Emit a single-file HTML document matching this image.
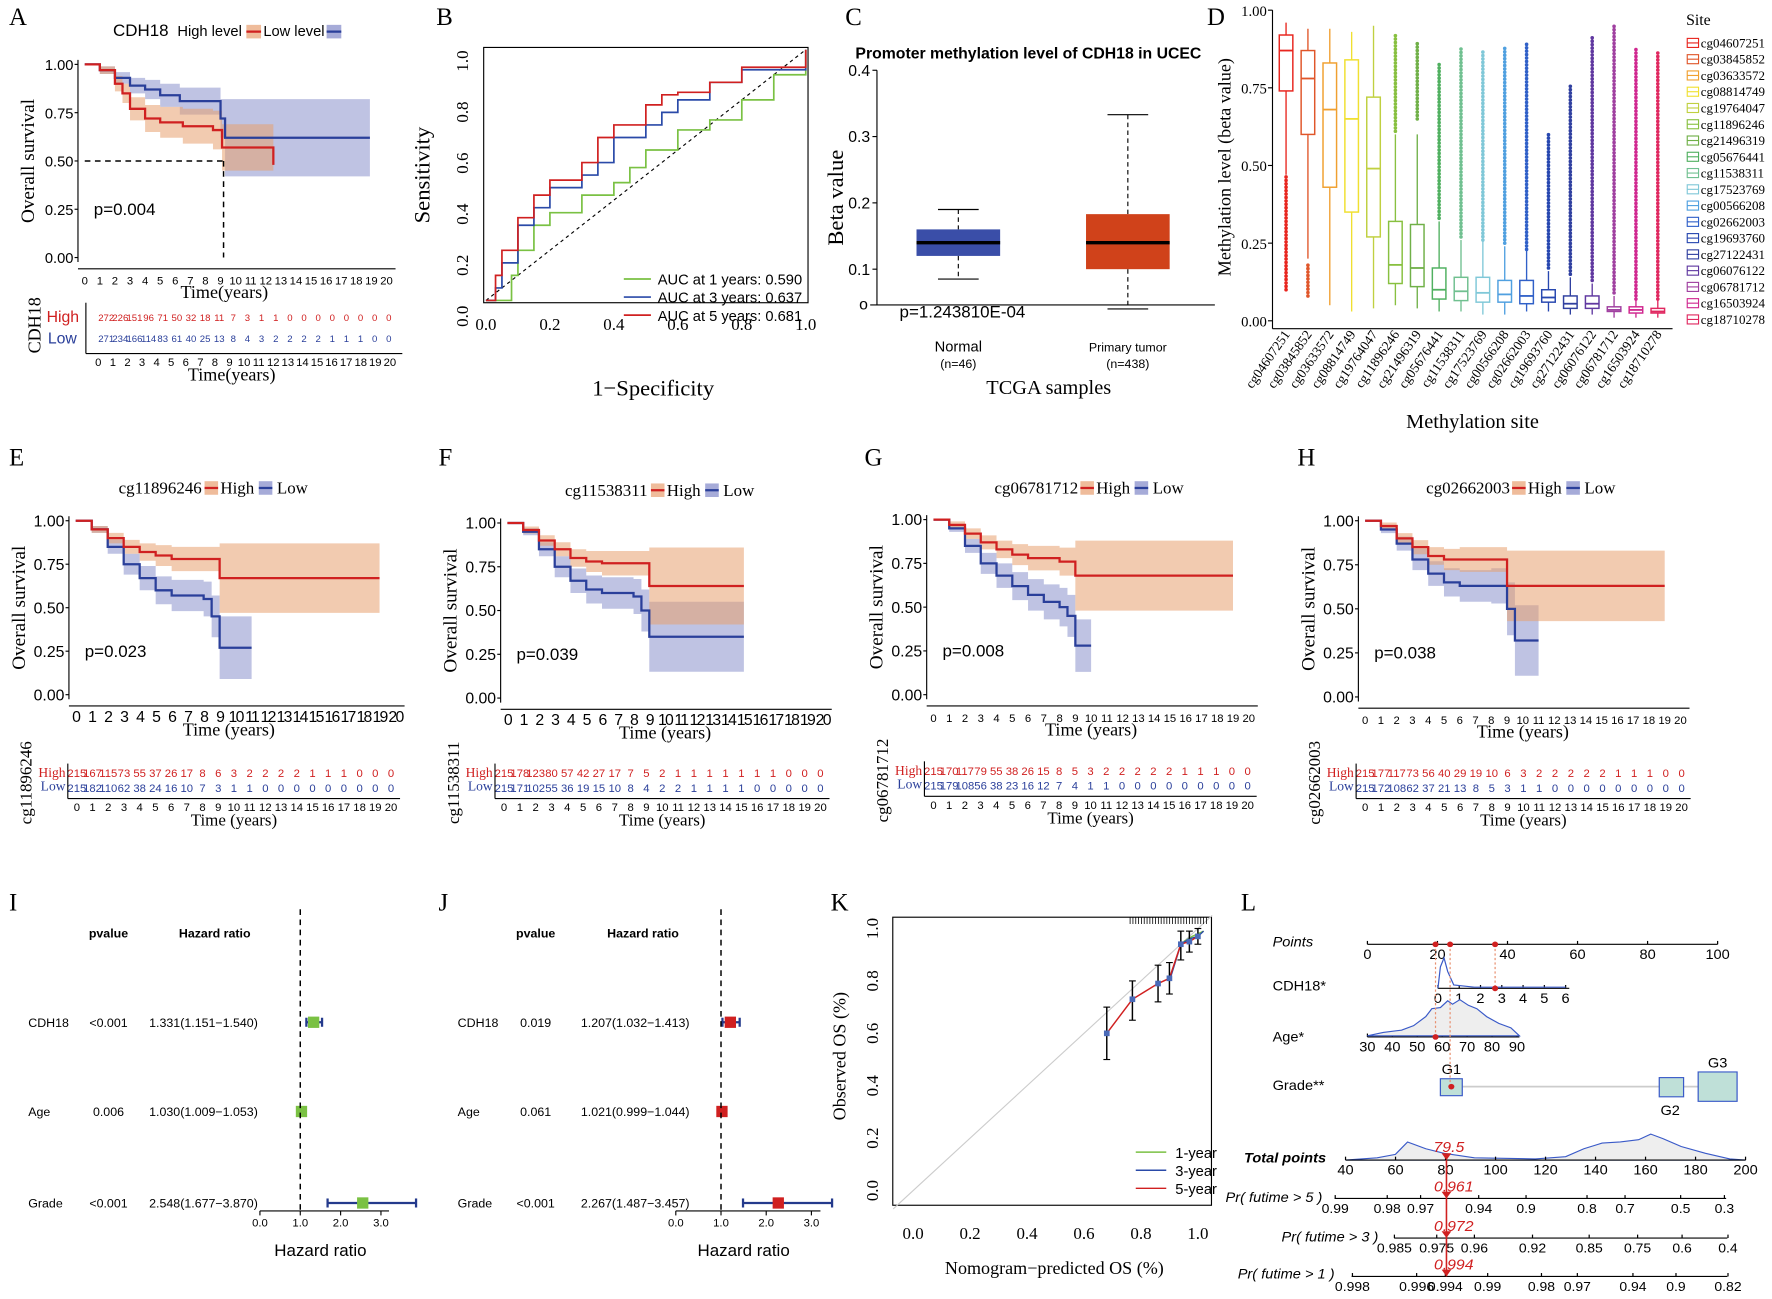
<!DOCTYPE html>
<html><head><meta charset="utf-8"><style>
html,body{margin:0;padding:0;background:#fff;}
svg{display:block;}
text{font-family:"Liberation Sans",sans-serif;}
.serif{font-family:"Liberation Serif",serif;}
</style></head><body>
<svg id="fig" xmlns="http://www.w3.org/2000/svg" width="1772" height="1299" viewBox="0 0 1568 1150" preserveAspectRatio="none"></svg>
<script>
// ---------- DATA ----------
const kmA_highT=[0,1,2,2.5,3,4,5,6.5,8.5,9.1,12.5];
const kmA_highS=[1,.97,.9,.85,.77,.72,.7,.68,.66,.57,.48];
const kmA_highW=[0,.02,.04,.05,.06,.07,.08,.09,.1,.12,.18];
const kmA_lowT=[0,1,2,3,4,5,6.3,9,9.3,18.9];
const kmA_lowS=[1,.97,.93,.89,.87,.84,.81,.72,.62,.62];
const kmA_lowW=[0,.02,.03,.04,.05,.06,.07,.1,.2,.2];
const riskA_high=[272,226,151,96,71,50,32,18,11,7,3,1,1,0,0,0,0,0,0,0,0];
const riskA_low=[271,234,166,114,83,61,40,25,13,8,4,3,2,2,2,2,1,1,1,0,0];

const rocFpr1=[0,.05,.08,.1,.15,.2,.3,.4,.45,.5,.6,.7,.8,.9,1];
const rocTpr1=[0,0,.1,.2,.3,.35,.42,.47,.53,.6,.68,.72,.8,.9,1];
const rocFpr3=[0,.03,.05,.1,.15,.2,.3,.35,.4,.5,.55,.6,.7,.8,1];
const rocTpr3=[0,.05,.15,.3,.37,.45,.5,.55,.65,.7,.75,.8,.87,.92,1];
const rocFpr5=[0,.03,.05,.1,.15,.2,.3,.35,.4,.5,.55,.6,.7,.8,1];
const rocTpr5=[0,.1,.2,.33,.42,.48,.55,.65,.7,.78,.82,.83,.87,.93,1];
const aucLabels=["AUC at 1 years: 0.590","AUC at 3 years: 0.637","AUC at 5 years: 0.681"];

const cGroups=["Normal","Primary tumor"];
const cN=["(n=46)","(n=438)"];
const cMed=[.14,.14], cQ1=[.12,.10], cQ3=[.16,.183], cWlo=[.085,.04], cWhi=[.19,.333];

const dSites=["cg04607251","cg03845852","cg03633572","cg08814749","cg19764047","cg11896246","cg21496319","cg05676441","cg11538311","cg17523769","cg00566208","cg02662003","cg19693760","cg27122431","cg06076122","cg06781712","cg16503924","cg18710278"];
const dColors=["#e8261f","#e0562a","#f0a030","#f0e030","#c0d040","#88c040","#70b048","#50b060","#70c090","#80c8d8","#50a0e0","#3060c8","#2848b0","#3040a0","#6038a0","#a040a0","#d02890","#e02860"];
const dMed=[.87,.78,.68,.65,.49,.18,.17,.1,.095,.09,.085,.08,.075,.055,.055,.035,.035,.03];
const dQ1=[.74,.6,.43,.35,.27,.12,.11,.07,.065,.06,.06,.055,.06,.04,.04,.03,.025,.025];
const dQ3=[.92,.87,.83,.84,.72,.32,.31,.17,.14,.14,.13,.13,.10,.08,.08,.045,.045,.04];
const dWlo=[.47,.2,.05,.03,.04,.05,.04,.03,.03,.02,.02,.03,.03,.02,.02,.01,.01,.01];
const dWhi=[.96,.94,.94,.93,.95,.6,.6,.32,.26,.26,.24,.23,.16,.14,.12,.08,.07,.07];
const dOutMin=[.1,.08,0,0,0,.61,.65,.33,.27,.26,.25,.23,.17,.15,.13,.09,.07,.07];
const dOutMax=[.47,.19,0,0,0,.92,.9,.83,.88,.87,.88,.9,.6,.76,.92,.95,.88,.87];

const kmE={hT:[0,1,2,3,4,5,6,9,19],hS:[1,.95,.9,.85,.82,.8,.78,.67,.67],hW:[0,.02,.03,.04,.05,.06,.07,.2,.2],
 lT:[0,1,2,3,4,5,6,8,8.5,9,11],lS:[1,.95,.85,.75,.67,.6,.57,.55,.45,.27,.27],lW:[0,.02,.04,.06,.07,.08,.09,.1,.12,.18,.18]};
const kmF={hT:[0,1,2,3,4,5,6,9,15],hS:[1,.96,.9,.85,.8,.78,.77,.64,.64],hW:[0,.02,.03,.04,.05,.06,.07,.22,.22],
 lT:[0,1,2,3,4,5,6,8,8.5,9,15],lS:[1,.95,.85,.75,.67,.62,.6,.58,.5,.35,.35],lW:[0,.02,.04,.06,.07,.08,.09,.1,.12,.2,.2]};
const kmG={hT:[0,1,2,3,4,5,6,8,9,19],hS:[1,.97,.92,.87,.83,.8,.78,.76,.68,.68],hW:[0,.02,.03,.04,.05,.06,.07,.08,.2,.2],
 lT:[0,1,2,3,4,5,6,7,8,8.5,9,10],lS:[1,.95,.85,.75,.68,.62,.57,.53,.5,.45,.28,.28],lW:[0,.02,.04,.06,.07,.08,.09,.1,.11,.12,.15,.15]};
const kmH={hT:[0,1,2,3,4,5,6,9,19],hS:[1,.97,.9,.85,.8,.78,.78,.63,.63],hW:[0,.02,.03,.04,.05,.06,.07,.2,.2],
 lT:[0,1,2,3,4,5,6,8,9,9.5,11],lS:[1,.95,.87,.78,.7,.65,.63,.63,.5,.32,.32],lW:[0,.02,.04,.06,.07,.08,.09,.1,.15,.2,.2]};
const riskE_high=[215,167,115,73,55,37,26,17,8,6,3,2,2,2,2,1,1,1,0,0,0];
const riskE_low=[215,182,110,62,38,24,16,10,7,3,1,1,0,0,0,0,0,0,0,0,0];
const riskF_high=[215,178,123,80,57,42,27,17,7,5,2,1,1,1,1,1,1,1,0,0,0];
const riskF_low=[215,171,102,55,36,19,15,10,8,4,2,2,1,1,1,1,0,0,0,0,0];
const riskG_high=[215,170,117,79,55,38,26,15,8,5,3,2,2,2,2,2,1,1,1,0,0];
const riskG_low=[215,179,108,56,38,23,16,12,7,4,1,1,0,0,0,0,0,0,0,0,0];
const riskH_high=[215,177,117,73,56,40,29,19,10,6,3,2,2,2,2,2,1,1,1,0,0];
const riskH_low=[215,172,108,62,37,21,13,8,5,3,1,1,0,0,0,0,0,0,0,0,0];

const forestVars=["CDH18","Age","Grade"];
const forestIp=["<0.001","0.006","<0.001"], forestIhr=[1.331,1.030,2.548], forestIlo=[1.151,1.009,1.677], forestIhi=[1.540,1.053,3.870];
const forestIlab=["1.331(1.151\u22121.540)","1.030(1.009\u22121.053)","2.548(1.677\u22123.870)"];
const forestJp=["0.019","0.061","<0.001"], forestJhr=[1.207,1.021,2.267], forestJlo=[1.032,.999,1.487], forestJhi=[1.413,1.044,3.457];
const forestJlab=["1.207(1.032\u22121.413)","1.021(0.999\u22121.044)","2.267(1.487\u22123.457)"];
const forestTicks=[0,1,2,3];

const calPred=[.68,.77,.86,.9,.94,.97,1.0];
const calObs=[.6,.73,.79,.81,.94,.95,.97];
const calLo=[.5,.65,.72,.75,.88,.91,.94];
const calHi=[.7,.8,.86,.87,.99,.99,1.0];
const cal1Pred=[.95,.98,1.0,1.02], cal1Obs=[.95,.97,.98,.99];
const cal3Pred=[.9,.94,.97,1.0,1.02], cal3Obs=[.8,.94,.96,.97,.99];
const calTicks=[0,.2,.4,.6,.8,1.0];

// ---------- HELPERS ----------
const svg=document.getElementById('fig');
const NS='http://www.w3.org/2000/svg';
function mk(tag,attrs,parent,name){
  const el=document.createElementNS(NS,tag);
  for(const k in attrs) el.setAttribute(k,attrs[k]);
  
  
  (parent||svg).appendChild(el);
  return el;
}
function txt(x,y,s,opt,name,parent){
  const o=Object.assign({x:x,y:y,'font-size':12,fill:'#000'},opt||{});
  const t=mk('text',o,parent,name);
  t.textContent=s;return t;
}
function grp(name){return mk('g',{},svg,name);}
function line(x1,y1,x2,y2,st,g,name){return mk('line',Object.assign({x1:x1,y1:y1,x2:x2,y2:y2,stroke:'#000','stroke-width':1},st||{}),g,name);}

function stepPath(T,S,sx,sy){
  let d='M'+sx(T[0])+','+sy(S[0]);
  for(let i=1;i<T.length;i++){d+=' H'+sx(T[i])+' V'+sy(S[i]);}
  return d;
}
function bandPath(T,S,W,sx,sy){
  let up='',lo=[];
  for(let i=0;i<T.length;i++){
    const t2=i<T.length-1?T[i+1]:T[i];
    const a=Math.min(1,S[i]+W[i]),b=Math.max(0,S[i]-W[i]);
    up+=(i?' L':'M')+sx(T[i])+','+sy(a)+' L'+sx(t2)+','+sy(a);
    lo.unshift(sx(t2)+','+sy(b)+' L'+sx(T[i])+','+sy(b));
  }
  return up+' L'+lo.join(' L')+' Z';
}
function kmPanel(g,cfg){
  const sx=t=>cfg.x0+t*(cfg.x1-cfg.x0)/20, sy=s=>cfg.yB+(cfg.yT-cfg.yB)*s;
  mk('path',{d:bandPath(cfg.lT,cfg.lS,cfg.lW,sx,sy),fill:'#8088c8','fill-opacity':.5},g,'low-ci-band');
  mk('path',{d:bandPath(cfg.hT,cfg.hS,cfg.hW,sx,sy),fill:'#e8a070','fill-opacity':.55},g,'high-ci-band');
  mk('path',{d:stepPath(cfg.lT,cfg.lS,sx,sy),fill:'none',stroke:'#2a3f9a','stroke-width':2},g,'low-survival-curve');
  mk('path',{d:stepPath(cfg.hT,cfg.hS,sx,sy),fill:'none',stroke:'#d02020','stroke-width':2},g,'high-survival-curve');
  line(cfg.x0-6,cfg.yT-4,cfg.x0-6,cfg.yB+4,{},g,'y-axis');
  line(cfg.x0-6,cfg.yB+10,cfg.x1+8,cfg.yB+10,{},g,'x-axis');
  [0,.25,.5,.75,1].forEach(v=>{
    txt(cfg.x0-10,sy(v)+5,v.toFixed(2),{'text-anchor':'end','font-size':cfg.fs||14},'y-tick-label',g);
    line(cfg.x0-9,sy(v),cfg.x0-6,sy(v),{},g,'y-tick');
  });
  for(let t=0;t<=20;t++) txt(sx(t),cfg.yB+24,String(t),{'text-anchor':'middle','font-size':cfg.xfs||11,'letter-spacing':cfg.ls||0},'x-tick-label',g);
  txt((cfg.x0+cfg.x1)/2+cfg.tOff,cfg.yB+36,cfg.xTitle,{'text-anchor':'middle','font-size':16,class:'serif'},'x-axis-title',g);
  txt(cfg.x0-45,(cfg.yT+cfg.yB)/2,'Overall survival',{'text-anchor':'middle','font-size':17,class:'serif',transform:`rotate(-90 ${cfg.x0-45} ${(cfg.yT+cfg.yB)/2})`},'y-axis-title',g);
  txt(cfg.x0+8,sy(.25)+5,cfg.p,{'font-size':15},'p-value',g);
}
function riskTable(g,cfg,hi,lo){
  const sx=t=>cfg.rx0+t*(cfg.rx1-cfg.rx0)/20;
  hi.forEach((v,i)=>txt(sx(i),cfg.ry,String(v),{'text-anchor':'middle','font-size':cfg.rfs||10,fill:'#d02020'},'risk-high-count',g));
  lo.forEach((v,i)=>txt(sx(i),cfg.ry+13,String(v),{'text-anchor':'middle','font-size':cfg.rfs||10,fill:'#2a3f9a'},'risk-low-count',g));
  line(cfg.rx0-8,cfg.ry-12,cfg.rx0-8,cfg.ry+19,{},g,'risk-y-axis');
  line(cfg.rx0-8,cfg.ry+19,cfg.rx1+8,cfg.ry+19,{},g,'risk-x-axis');
  for(let t=0;t<=20;t++) txt(sx(t),cfg.ry+30,String(t),{'text-anchor':'middle','font-size':10},'risk-x-tick',g);
  txt((cfg.rx0+cfg.rx1)/2,cfg.ry+43,'Time (years)',{'text-anchor':'middle','font-size':15,class:'serif'},'risk-x-title',g);
  txt(cfg.rx0-10,cfg.ry,'High',{'text-anchor':'end','font-size':12,fill:'#d02020',class:'serif'},'risk-high-label',g);
  txt(cfg.rx0-10,cfg.ry+12,'Low',{'text-anchor':'end','font-size':12,fill:'#2a3f9a',class:'serif'},'risk-low-label',g);
  const cx=cfg.rx0-40, cy=cfg.ry+5;
  txt(cx,cy,cfg.name,{'text-anchor':'middle','font-size':15,class:'serif',transform:`rotate(-90 ${cx} ${cy})`},'risk-table-title',g);
}
function legendTitle(g,x,y,name){
  txt(x,y,name,{'font-size':15,class:'serif'},'chart-title',g);
  const w=name.length*7.4;
  mk('rect',{x:x+w+2,y:y-11,width:12,height:12,fill:'#e8a070','fill-opacity':.7},g,'legend-high-swatch');
  line(x+w+2,y-5,x+w+14,y-5,{stroke:'#d02020','stroke-width':2},g,'legend-high-line');
  txt(x+w+16,y,'High',{'font-size':15,class:'serif'},'legend-high-label',g);
  mk('rect',{x:x+w+50,y:y-11,width:12,height:12,fill:'#8088c8','fill-opacity':.7},g,'legend-low-swatch');
  line(x+w+50,y-5,x+w+62,y-5,{stroke:'#2a3f9a','stroke-width':2},g,'legend-low-line');
  txt(x+w+66,y,'Low',{'font-size':15,class:'serif'},'legend-low-label',g);
}
function panelLabel(l,x,y){txt(x,y,l,{'font-size':22,class:'serif'},'panel-label-'+l.toLowerCase());}

// ---------- PANEL A ----------
(function(){
  const g=grp('panel-a');
  panelLabel('A',8,22);
  txt(100,32,'CDH18',{'font-size':15},'chart-title',g);
  txt(157,32,'High level',{'font-size':13},'legend-high-label',g);
  mk('rect',{x:218,y:22,width:13,height:12,fill:'#e8a070','fill-opacity':.7},g,'legend-high-swatch');
  line(218,28,231,28,{stroke:'#d02020','stroke-width':2},g,'legend-high-line');
  txt(233,32,'Low level',{'font-size':13},'legend-low-label',g);
  mk('rect',{x:289,y:22,width:13,height:12,fill:'#8088c8','fill-opacity':.7},g,'legend-low-swatch');
  line(289,28,302,28,{stroke:'#2a3f9a','stroke-width':2},g,'legend-low-line');
  const cfg={x0:75,x1:342,yT:57,yB:228,hT:kmA_highT,hS:kmA_highS,hW:kmA_highW,lT:kmA_lowT,lS:kmA_lowS,lW:kmA_lowW,p:'p=0.004',xTitle:'Time(years)',tOff:-10,fs:13,xfs:10};
  kmPanel(g,cfg);
  const sx=t=>75+t*267/20, sy=s=>228-171*s;
  line(sx(0),sy(.5),sx(9.2),sy(.5),{'stroke-dasharray':'5,4','stroke-width':1.3},g,'median-line');
  line(sx(9.2),sy(.5),sx(9.2),sy(0),{'stroke-dasharray':'5,4','stroke-width':1.3},g,'median-drop-line');
  const sxr=t=>94+t*(344-94)/20;
  riskA_high.forEach((v,i)=>txt(sxr(i),284,String(v),{'text-anchor':'middle','font-size':8.5,fill:'#d02020'},'risk-high-count',g));
  riskA_low.forEach((v,i)=>txt(sxr(i),303,String(v),{'text-anchor':'middle','font-size':8.5,fill:'#2a3f9a'},'risk-low-count',g));
  txt(70,285,'High',{'text-anchor':'end','font-size':14,fill:'#d02020'},'risk-high-label',g);
  txt(68,304,'Low',{'text-anchor':'end','font-size':14,fill:'#2a3f9a'},'risk-low-label',g);
  line(76,268,76,313,{},g,'risk-y-axis');
  line(76,313,356,313,{},g,'risk-x-axis');
  for(let t=0;t<=20;t++) txt(87+t*12.9,324,String(t),{'text-anchor':'middle','font-size':10},'risk-x-tick',g);
  txt(205,337,'Time(years)',{'text-anchor':'middle','font-size':16,class:'serif'},'risk-x-title',g);
  txt(36,288,'CDH18',{'text-anchor':'middle','font-size':16,class:'serif',transform:'rotate(-90 36 288)'},'risk-table-title',g);
})();

// ---------- PANEL B ----------
(function(){
  const g=grp('panel-b');
  panelLabel('B',386,22);
  const sx=v=>430+v*283, sy=v=>266-v*222;
  mk('rect',{x:428,y:42,width:287,height:226,fill:'none',stroke:'#000'},g,'plot-frame');
  line(sx(0),sy(0),sx(1),sy(1),{'stroke-dasharray':'3,3'},g,'reference-diagonal');
  function roc(F,T,col,name){
    let d='M'+sx(F[0])+','+sy(T[0]);
    for(let i=1;i<F.length;i++) d+=' L'+sx(F[i])+','+sy(T[i-1])+' L'+sx(F[i])+','+sy(T[i]);
    mk('path',{d:d,fill:'none',stroke:col,'stroke-width':1.5},g,name);
  }
  roc(rocFpr1,rocTpr1,'#7ac143','roc-1-year');
  roc(rocFpr3,rocTpr3,'#2a4aa8','roc-3-year');
  roc(rocFpr5,rocTpr5,'#d02020','roc-5-year');
  [0,.2,.4,.6,.8,1].forEach(v=>{
    txt(sx(v),292,v.toFixed(1),{'text-anchor':'middle','font-size':15,class:'serif'},'x-tick-label',g);
    const y=266-v*226+14;
    txt(414,y,v.toFixed(1),{'text-anchor':'middle','font-size':15,class:'serif',transform:`rotate(-90 414 ${y})`},'y-tick-label',g);
  });
  txt(578,350,'1\u2212Specificity',{'text-anchor':'middle','font-size':20,class:'serif'},'x-axis-title',g);
  txt(380,155,'Sensitivity',{'text-anchor':'middle','font-size':20,class:'serif',transform:'rotate(-90 380 155)'},'y-axis-title',g);
  const cols=['#7ac143','#2a4aa8','#d02020'];
  aucLabels.forEach((s,i)=>{
    line(552,247+i*16,576,247+i*16,{stroke:cols[i],'stroke-width':1.5},g,'legend-line');
    txt(582,252+i*16,s,{'font-size':13},'legend-label',g);
  });
})();

// ---------- PANEL C ----------
(function(){
  const g=grp('panel-c');
  panelLabel('C',748,22);
  txt(910,52,'Promoter methylation level of CDH18 in UCEC',{'text-anchor':'middle','font-size':14,'font-weight':'bold'},'chart-title',g);
  const sy=v=>297-v*587;
  line(776,sy(.4),776,270,{},g,'y-axis');
  [.1,.2,.3,.4].forEach(v=>{
    line(772,sy(v),776,sy(v),{},g,'y-tick');
    txt(770,sy(v)+5,v.toFixed(1),{'text-anchor':'end','font-size':14},'y-tick-label',g);
  });
  txt(768,274,'o',{'text-anchor':'end','font-size':14},'y-tick-label-zero',g);
  txt(746,175,'Beta value',{'text-anchor':'middle','font-size':20,class:'serif',transform:'rotate(-90 746 175)'},'y-axis-title',g);
  line(770,270,1075,270,{stroke:'#000'},g,'x-axis');
  const cx=[848,998], fills=['#3a4ea8','#d0421a'];
  cGroups.forEach((nm,i)=>{
    line(cx[i],sy(cWhi[i]),cx[i],sy(cQ3[i]),{'stroke-dasharray':'4,3'},g,'whisker-upper');
    line(cx[i],sy(cQ1[i]),cx[i],sy(cWlo[i]),{'stroke-dasharray':'4,3'},g,'whisker-lower');
    line(cx[i]-18,sy(cWhi[i]),cx[i]+18,sy(cWhi[i]),{},g,'whisker-cap');
    line(cx[i]-18,sy(cWlo[i]),cx[i]+18,sy(cWlo[i]),{},g,'whisker-cap');
    mk('rect',{x:cx[i]-37,y:sy(cQ3[i]),width:74,height:sy(cQ1[i])-sy(cQ3[i]),fill:fills[i]},g,'box-'+i);
    line(cx[i]-37,sy(cMed[i]),cx[i]+37,sy(cMed[i]),{'stroke-width':3},g,'median-line');
    txt(cx[i],311,nm,{'text-anchor':'middle','font-size':i?11:13},'x-category-label',g);
    txt(cx[i],326,cN[i],{'text-anchor':'middle','font-size':11},'x-category-n',g);
  });
  txt(796,281,'p=1.243810E-04',{'font-size':15},'p-value',g);
  txt(928,349,'TCGA samples',{'text-anchor':'middle','font-size':18,class:'serif'},'x-axis-title',g);
})();

// ---------- PANEL D ----------
(function(){
  const g=grp('panel-d');
  panelLabel('D',1068,22);
  const sy=v=>284-v*275, x0=1138, dx=19.35;
  line(1126,sy(1),1126,sy(0)+7,{},g,'y-axis');
  line(1126,sy(0)+7,1480,sy(0)+7,{},g,'x-axis');
  [0,.25,.5,.75,1].forEach(v=>{
    line(1122,sy(v),1126,sy(v),{},g,'y-tick');
    txt(1121,sy(v)+5,v.toFixed(2),{'text-anchor':'end','font-size':13,class:'serif'},'y-tick-label',g);
  });
  txt(1089,148,'Methylation level (beta value)',{'text-anchor':'middle','font-size':16,class:'serif',transform:'rotate(-90 1089 148)'},'y-axis-title',g);
  dSites.forEach((s,i)=>{
    const cx=x0+i*dx,c=dColors[i];
    line(cx,sy(dWhi[i]),cx,sy(dWlo[i]),{stroke:c,'stroke-width':1.2},g,'whisker');
    mk('rect',{x:cx-6,y:sy(dQ3[i]),width:12,height:sy(dQ1[i])-sy(dQ3[i]),fill:'#fff',stroke:c,'stroke-width':1.3},g,'box-'+s);
    line(cx-6,sy(dMed[i]),cx+6,sy(dMed[i]),{stroke:c,'stroke-width':1.6},g,'median');
    if(dOutMax[i]>0){
      for(let v=dOutMin[i];v<=dOutMax[i];v+=.011) mk('circle',{cx:cx,cy:sy(v),r:1.6,fill:c},g,'outlier');
    }
    const ty=296, tx=cx+4;
    txt(tx,ty,s,{'text-anchor':'end','font-size':12,class:'serif',transform:`rotate(-55 ${tx} ${ty})`},'x-tick-label',g);
    mk('rect',{x:1493,y:34+i*14.4,width:10,height:8,fill:'none',stroke:c},g,'legend-box');
    line(1493,38+i*14.4,1503,38+i*14.4,{stroke:c},g,'legend-swatch');
    txt(1505,42+i*14.4,s,{'font-size':11.5,class:'serif'},'legend-label',g);
  });
  txt(1492,22,'Site',{'font-size':14,class:'serif'},'legend-title',g);
  txt(1303,379,'Methylation site',{'text-anchor':'middle','font-size':18,class:'serif'},'x-axis-title',g);
})();

// ---------- PANELS E-H ----------
[
 {L:'E',lx:8,name:'cg11896246',d:kmE,hi:riskE_high,lo:riskE_low,x0:67,x1:350,yT:461,yB:615,p:'p=0.023',tx:105,tOff:-6,xfs:14,ls:-1.5,rx0:68,rx1:346,ry:688,ty:437},
 {L:'F',lx:388,name:'cg11538311',d:kmF,hi:riskF_high,lo:riskF_low,x0:449,x1:728,yT:463,yB:618,p:'p=0.039',tx:500,tOff:0,xfs:14,ls:-1.5,rx0:446,rx1:726,ry:688,ty:439},
 {L:'G',lx:765,name:'cg06781712',d:kmG,hi:riskG_high,lo:riskG_low,x0:826,x1:1105,yT:460,yB:615,p:'p=0.008',tx:880,tOff:0,xfs:10,ls:0,rx0:826,rx1:1104,ry:686,ty:437},
 {L:'H',lx:1148,name:'cg02662003',d:kmH,hi:riskH_high,lo:riskH_low,x0:1208,x1:1487,yT:461,yB:617,p:'p=0.038',tx:1262,tOff:0,xfs:10,ls:0,rx0:1208,rx1:1488,ry:688,ty:437}
].forEach(P=>{
  const g=grp('panel-'+P.L.toLowerCase());
  panelLabel(P.L,P.lx,412);
  legendTitle(g,P.tx,P.ty,P.name);
  kmPanel(g,{x0:P.x0,x1:P.x1,yT:P.yT,yB:P.yB,hT:P.d.hT,hS:P.d.hS,hW:P.d.hW,lT:P.d.lT,lS:P.d.lS,lW:P.d.lW,p:P.p,xTitle:'Time (years)',tOff:P.tOff,xfs:P.xfs,ls:P.ls,fs:14});
  riskTable(g,P,P.hi,P.lo);
});

// ---------- PANELS I, J ----------
function forest(P){
  const g=grp('panel-'+P.L.toLowerCase());
  panelLabel(P.L,P.lx,806);
  const sx=v=>P.a0+v*P.u;
  txt(P.px,830,'pvalue',{'text-anchor':'middle','font-size':11,'font-weight':'bold'},'header-pvalue',g);
  txt(P.hx,830,'Hazard ratio',{'text-anchor':'middle','font-size':11,'font-weight':'bold'},'header-hazard-ratio',g);
  const ys=[909,988,1069];
  forestVars.forEach((v,i)=>{
    txt(P.lx+17,ys[i],v,{'font-size':11},'row-label',g);
    txt(P.px,ys[i],P.p[i],{'text-anchor':'middle','font-size':11},'row-pvalue',g);
    txt(P.hrx,ys[i],P.lab[i],{'font-size':11},'row-hr-text',g);
    const y=ys[i]-4;
    line(sx(P.lo[i]),y,sx(P.hi[i]),y,{stroke:'#243a8c','stroke-width':2},g,'ci-line');
    line(sx(P.lo[i]),y-4,sx(P.lo[i]),y+4,{stroke:'#243a8c','stroke-width':2},g,'ci-cap');
    line(sx(P.hi[i]),y-4,sx(P.hi[i]),y+4,{stroke:'#243a8c','stroke-width':2},g,'ci-cap');
    mk('rect',{x:sx(P.hr[i])-5,y:y-5,width:10,height:10,fill:P.col},g,'hr-marker');
  });
  line(sx(1),805,sx(1),1072,{'stroke-dasharray':'5,4','stroke-width':1.3},g,'reference-line');
  line(sx(0),1072,sx(3.2),1072,{},g,'x-axis');
  forestTicks.forEach(v=>{
    line(sx(v),1072,sx(v),1076,{},g,'x-tick');
    txt(sx(v),1086,v.toFixed(1),{'text-anchor':'middle','font-size':10},'x-tick-label',g);
  });
  txt(sx(1.5),1112,'Hazard ratio',{'text-anchor':'middle','font-size':15},'x-axis-title',g);
}
forest({L:'I',lx:8,px:96,hx:190,hrx:132,a0:230,u:35.7,p:forestIp,hr:forestIhr,lo:forestIlo,hi:forestIhi,lab:forestIlab,col:'#7ac143'});
forest({L:'J',lx:388,px:474,hx:569,hrx:514,a0:598,u:40,p:forestJp,hr:forestJhr,lo:forestJlo,hi:forestJhi,lab:forestJlab,col:'#d02020'});

// ---------- PANEL K ----------
(function(){
  const g=grp('panel-k');
  panelLabel('K',735,806);
  const sx=v=>808+v*252, sy=v=>1054-v*232;
  mk('rect',{x:790,y:812,width:282,height:255,fill:'none',stroke:'#000'},g,'plot-frame');
  line(sx(-.07),sy(-.07),sx(1.05),sy(1.05),{stroke:'#ccc'},g,'ideal-line');
  for(let x=1000;x<1070;x+=2.5) line(x,812,x,818,{'stroke-width':.7},g,'rug-tick');
  calTicks.forEach(v=>{
    txt(sx(v),1097,v.toFixed(1),{'text-anchor':'middle','font-size':15,class:'serif'},'x-tick-label',g);
    txt(777,sy(v),v.toFixed(1),{'text-anchor':'middle','font-size':15,class:'serif',transform:`rotate(-90 777 ${sy(v)})`},'y-tick-label',g);
  });
  txt(933,1128,'Nomogram\u2212predicted OS (%)',{'text-anchor':'middle','font-size':16,class:'serif'},'x-axis-title',g);
  txt(748,935,'Observed OS (%)',{'text-anchor':'middle','font-size':16,class:'serif',transform:'rotate(-90 748 935)'},'y-axis-title',g);
  const pl=(P,O,c,n)=>mk('polyline',{points:P.map((p,i)=>sx(p)+','+sy(O[i])).join(' '),fill:'none',stroke:c,'stroke-width':1.3},g,n);
  pl(cal1Pred,cal1Obs,'#7ac143','calibration-1-year');
  pl(cal3Pred,cal3Obs,'#2a4aa8','calibration-3-year');
  pl(calPred,calObs,'#d02020','calibration-5-year');
  calPred.forEach((p,i)=>{
    line(sx(p),sy(calLo[i]),sx(p),sy(calHi[i]),{'stroke-width':1.3},g,'error-bar');
    line(sx(p)-3,sy(calLo[i]),sx(p)+3,sy(calLo[i]),{},g,'error-cap');
    line(sx(p)-3,sy(calHi[i]),sx(p)+3,sy(calHi[i]),{},g,'error-cap');
    mk('rect',{x:sx(p)-2.5,y:sy(calObs[i])-2.5,width:5,height:5,fill:'#4a6ab8'},g,'calibration-point');
  });
  const cols=['#7ac143','#2a4aa8','#d02020'],labs=['1-year','3-year','5-year'];
  labs.forEach((s,i)=>{
    line(1005,1020+i*16,1032,1020+i*16,{stroke:cols[i],'stroke-width':1.3},g,'legend-line');
    txt(1040,1025+i*16,s,{'font-size':13},'legend-label',g);
  });
})();

// ---------- PANEL L ----------
(function(){
  panelLabel('L',1098,806);
  const g=mk('g',{transform:'translate(1210,0) scale(1.076,1) translate(-1202,0)'},svg,'panel-l');
  function axis(x0,x1,y,labels,xs,name,fs){
    line(x0,y,x1,y,{},g,name+'-axis');
    labels.forEach((s,i)=>{
      line(xs[i],y,xs[i],y-3,{},g,name+'-tick');
      txt(xs[i],y+13,s,{'text-anchor':'middle','font-size':fs||12},name+'-tick-label',g);
    });
  }
  const rl=(s,x,y,o,n)=>txt(x,y,s,Object.assign({'font-size':12},o),n,g);
  rl('Points',1124,838,{'font-style':'italic'},'row-label-points');
  rl('CDH18*',1124,877,{},'row-label-cdh18');
  rl('Age*',1124,922,{},'row-label-age');
  rl('Grade**',1124,965,{},'row-label-grade');
  rl('Total points',1168,1029,{'font-weight':'bold','font-style':'italic','text-anchor':'end'},'row-label-total');
  rl('Pr( futime > 5 )',1165,1064,{'font-style':'italic','text-anchor':'end'},'row-label-pr5');
  rl('Pr( futime > 3 )',1211,1099,{'font-style':'italic','text-anchor':'end'},'row-label-pr3');
  rl('Pr( futime > 1 )',1175,1132,{'font-style':'italic','text-anchor':'end'},'row-label-pr1');
  const pts=[0,20,40,60,80,100];
  axis(1202,1490,836,pts.map(String),pts.map(v=>1202+v*2.88),'points');
  const cd=[0,1,2,3,4,5,6];
  axis(1260,1368,875,cd.map(String),cd.map(v=>1260+v*17.5),'cdh18');
  const ag=[30,40,50,60,70,80,90];
  axis(1202,1327,918,ag.map(String),ag.map(v=>1202+(v-30)*2.05),'age');
  mk('path',{d:'M1260,875 L1262,856 L1265,848 L1268,860 L1273,872 L1290,874 L1365,874',fill:'none',stroke:'#3a5ac8'},g,'cdh18-density');
  mk('path',{d:'M1202,917 L1215,914 L1230,912 L1240,908 L1250,900 L1255,893 L1262,892 L1268,886 L1272,889 L1278,885 L1285,890 L1292,893 L1300,900 L1310,906 L1320,910 L1327,917 Z',fill:'#eee',stroke:'#3a5ac8'},g,'age-density');
  line(1264,962,1500,962,{stroke:'#ccc','stroke-width':1.5},g,'grade-line');
  mk('rect',{x:1262,y:955,width:18,height:15,fill:'#bfe0d8',stroke:'#3a5ac8'},g,'grade-g1-box');
  mk('rect',{x:1442,y:954,width:20,height:17,fill:'#bfe0d8',stroke:'#3a5ac8'},g,'grade-g2-box');
  mk('rect',{x:1474,y:949,width:32,height:26,fill:'#bfe0d8',stroke:'#3a5ac8'},g,'grade-g3-box');
  rl('G1',1271,951,{'text-anchor':'middle'},'grade-g1-label');
  rl('G2',1451,987,{'text-anchor':'middle'},'grade-g2-label');
  rl('G3',1490,945,{'text-anchor':'middle'},'grade-g3-label');
  mk('path',{d:'M1184,1027 L1210,1025 L1225,1022 L1235,1011 L1250,1017 L1265,1021 L1290,1025 L1340,1026 L1365,1024 L1380,1017 L1395,1012 L1410,1011 L1425,1009 L1435,1004 L1445,1008 L1460,1015 L1480,1021 L1500,1026 L1513,1027 Z',fill:'#eee',stroke:'#3a5ac8'},g,'total-density');
  const tp=[40,60,80,100,120,140,160,180,200];
  axis(1184,1513,1027,tp.map(String),tp.map(v=>1184+(v-40)*2.056),'total');
  const p5=['0.99','0.98','0.97','0.94','0.9','0.8','0.7','0.5','0.3'],p5x=[355,500,593,755,887,1057,1163,1318,1440];
  axis(1175,1497,1061,p5,p5x.map(z=>(1210+z/3)/1.13),'pr5',11.5);
  const p3=['0.985','0.975','0.96','0.92','0.85','0.75','0.6','0.4'],p3x=[520,638,743,905,1063,1198,1322,1450];
  axis(1224,1498,1096,p3,p3x.map(z=>(1210+z/3)/1.13),'pr3',11.5);
  const p1=['0.998','0.996','0.994','0.99','0.98','0.97','0.94','0.9','0.82'],p1x=[403,582,662,780,930,1030,1185,1305,1450];
  axis(1189,1498,1130,p1,p1x.map(z=>(1210+z/3)/1.13),'pr1',11.5);
  [1258,1270,1307].forEach(x=>line(x,836,x,x===1270?962:(x===1307?875:918),{stroke:'#e89070','stroke-dasharray':'2,2'},g,'projection-line'));
  [[1258,836],[1270,836],[1307,836],[1307,875],[1258,918],[1271,962]].forEach(p=>mk('circle',{cx:p[0],cy:p[1],r:2.5,fill:'#d02020'},g,'selected-point'));
  line(1267,1027,1267,1130,{stroke:'#d02020','stroke-width':1.3},g,'prediction-line');
  [1027,1061,1096,1130].forEach(y=>mk('path',{d:`M1263,${y-6} L1271,${y-6} L1267,${y} Z`,fill:'#d02020'},g,'prediction-marker'));
  const red={'font-size':13,fill:'#d02020','font-style':'italic','text-anchor':'middle'};
  rl('79.5',1269,1020,red,'value-total');
  rl('0.961',1273,1055,red,'value-pr5');
  rl('0.972',1273,1090,red,'value-pr3');
  rl('0.994',1273,1124,red,'value-pr1');
})();
</script>
</body></html>
